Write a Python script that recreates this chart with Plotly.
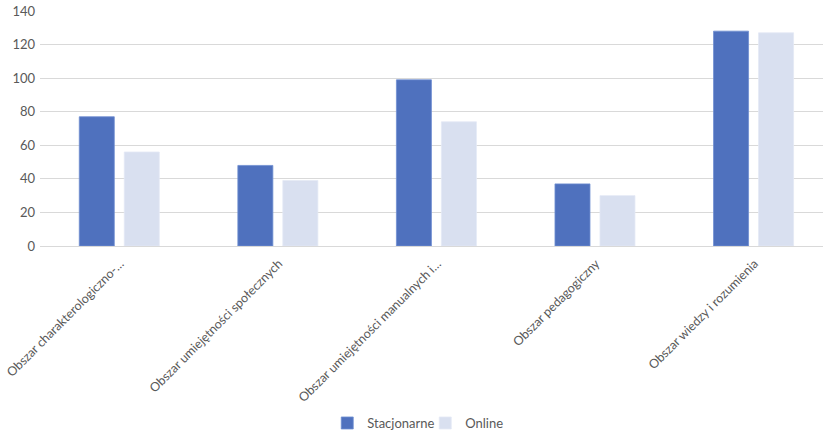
import plotly.graph_objects as go

categories = [
    "Obszar charakterologiczno-…",
    "Obszar umiejętności społecznych",
    "Obszar umiejętności manualnych i…",
    "Obszar pedagogiczny",
    "Obszar wiedzy i rozumienia",
]
stacjonarne = [77, 48, 99, 37, 128]
online = [56, 39, 74, 30, 127]
y_ticks = [0, 20, 40, 60, 80, 100, 120, 140]

fig = go.Figure()
fig.add_trace(go.Bar(
    x=categories, y=stacjonarne, name="Stacjonarne",
    marker=dict(color="#4F71BE", line=dict(color="#6F8ED0", width=0.8)),
))
fig.add_trace(go.Bar(
    x=categories, y=online, name="Online",
    marker=dict(color="#D9E0F0", line=dict(color="#E3E9F5", width=0.8)),
))

fig.update_layout(
    width=823, height=434,
    margin=dict(l=40, r=0, t=11, b=188),
    paper_bgcolor="white", plot_bgcolor="white",
    barmode="group", bargap=0.4325, bargroupgap=0.222,
    font=dict(family="Lato, 'Open Sans', sans-serif", size=13, color="#595959"),
    showlegend=True,
    legend=dict(orientation="h", x=0.492, xanchor="center",
                yref="container", y=0.0253, yanchor="middle",
                font=dict(size=13, color="#595959"), itemwidth=30, traceorder="normal",
                entrywidth=53, entrywidthmode="pixels"),
    xaxis=dict(
        range=[-0.5, 4.438], tickangle=-45, showgrid=False, showline=False,
        ticks="", tickfont=dict(size=12.5, color="#595959"), fixedrange=True,
        automargin=False, ticklabelstandoff=7, ticklabelshift=1,
    ),
    yaxis=dict(
        range=[0, 140], tickvals=y_ticks, showgrid=True, gridcolor="#D9D9D9", gridwidth=1,
        zeroline=True, zerolinecolor="#D9D9D9", zerolinewidth=1, showline=False,
        ticks="", tickfont=dict(size=13, color="#595959"), ticklabelstandoff=4,
        automargin=False, fixedrange=True,
    ),
)

fig.write_html(
    "out.html",
    config={"displayModeBar": False},
    post_script="document.body.style.margin='0';document.body.style.overflow='hidden';",
)
